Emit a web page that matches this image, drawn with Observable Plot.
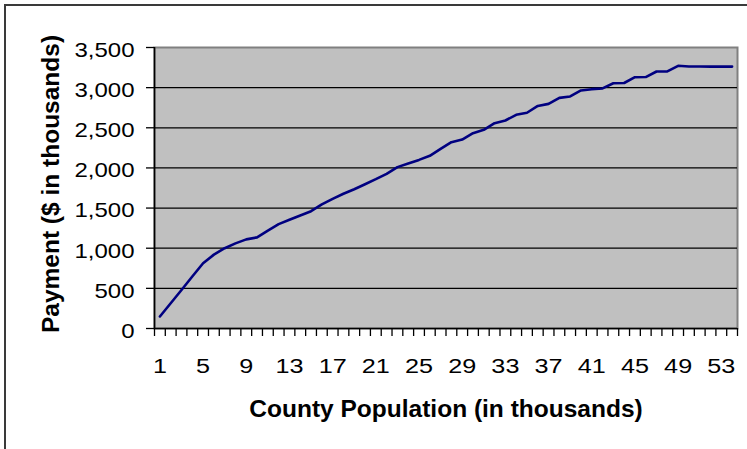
<!DOCTYPE html>
<html><head><meta charset="utf-8">
<script src="https://cdn.jsdelivr.net/npm/d3@7"></script>
<script src="https://cdn.jsdelivr.net/npm/@observablehq/plot@0.6"></script>
<style>
html,body{margin:0;padding:0;background:#fff;}
#wrap{position:relative;width:747px;height:449px;overflow:hidden;}
#border{position:absolute;left:4px;top:4px;width:800px;height:500px;border-left:2px solid #3a3a3a;border-top:2px solid #3a3a3a;pointer-events:none;}
</style></head><body>
<div id="wrap"><div id="chart"></div><div id="border"></div></div>
<script>
const population = [1,2,3,4,5,6,7,8,9,10,11,12,13,14,15,16,17,18,19,20,21,22,23,24,25,26,27,28,29,30,31,32,33,34,35,36,37,38,39,40,41,42,43,44,45,46,47,48,49,50,51,52,53,54];
const payment = [150,315,480,648,813,920,1000,1060,1110,1135,1220,1300,1355,1407,1461,1545,1615,1678,1735,1797,1860,1927,2010,2055,2100,2151,2238,2321,2354,2433,2475,2557,2591,2662,2687,2772,2798,2873,2890,2965,2981,2990,3055,3058,3130,3132,3201,3203,3272,3264,3264,3262,3262,3262];
const xTickLabels = [1,5,9,13,17,21,25,29,33,37,41,45,49,53];
const yTicks = [0,500,1000,1500,2000,2500,3000,3500];
const gridTicks = [500,1000,1500,2000,2500,3000];
const xTitle = "County Population (in thousands)";
const yTitle = "Payment ($ in thousands)";

const data = population.map((p, i) => ({population: p, payment: payment[i]}));
const categoryEdges = population.map(p => p - 0.5).concat([population[population.length - 1] + 0.5]);
const fmt = d3.format(",");

const svg = Plot.plot({
  width: 747, height: 449,
  marginLeft: 154, marginRight: 10, marginTop: 47, marginBottom: 121,
  style: {fontFamily: "'Liberation Sans', Arial, sans-serif", background: "transparent", color: "#000", overflow: "visible"},
  x: {type: "linear", domain: [categoryEdges[0], categoryEdges[categoryEdges.length - 1]], axis: null},
  y: {domain: [0, 3500], axis: null},
  marks: [
    Plot.frame({fill: "#c0c0c0", stroke: "#808080", strokeWidth: 2}),
    Plot.gridY(gridTicks, {stroke: "#000", strokeOpacity: 1, strokeWidth: 1.2}),
    Plot.text(yTicks, {y: d => d, text: d => fmt(d), frameAnchor: "left", textAnchor: "end", dx: -20, dy: 3, fontSize: 20}),
    Plot.text(xTickLabels, {x: d => d, text: d => String(d), frameAnchor: "bottom", lineAnchor: "top", dy: 30, fontSize: 21}),
    Plot.axisY(yTicks, {tickSize: 8, tickFormat: () => "", label: null, strokeWidth: 1.3}),
    Plot.axisX(categoryEdges, {tickSize: 8, tickFormat: () => "", label: null, strokeWidth: 1.3}),
    Plot.ruleY([0], {stroke: "#000", strokeWidth: 1.6}),
    Plot.ruleX([categoryEdges[0]], {stroke: "#000", strokeWidth: 1.6}),
    Plot.line(data, {x: "population", y: "payment", stroke: "#000080", strokeWidth: 2.6}),
    Plot.text([yTitle], {text: d => d, frameAnchor: "left", rotate: -90, dx: -96, dy: -4, fontSize: 24.5, fontWeight: "bold", lineAnchor: "bottom", textAnchor: "middle"}),
    Plot.text([xTitle], {text: d => d, frameAnchor: "bottom", dy: 88, fontSize: 24.5, fontWeight: "bold", lineAnchor: "bottom"})
  ]
});
document.getElementById("chart").append(svg);
// Excel renders these digits horizontally widened: scale each numeric label about its anchor
svg.querySelectorAll("text").forEach(t => {
  const s = t.textContent.trim();
  if (!/^[\d,]+$/.test(s)) return;
  const x = parseFloat(t.getAttribute("x")) || 0;
  const y = parseFloat(t.getAttribute("y")) || 0;
  const prev = t.getAttribute("transform") || "";
  t.setAttribute("transform", `${prev} translate(${x},${y}) scale(1.2,1) translate(${-x},${-y})`.trim());
});
</script>
</body></html>
